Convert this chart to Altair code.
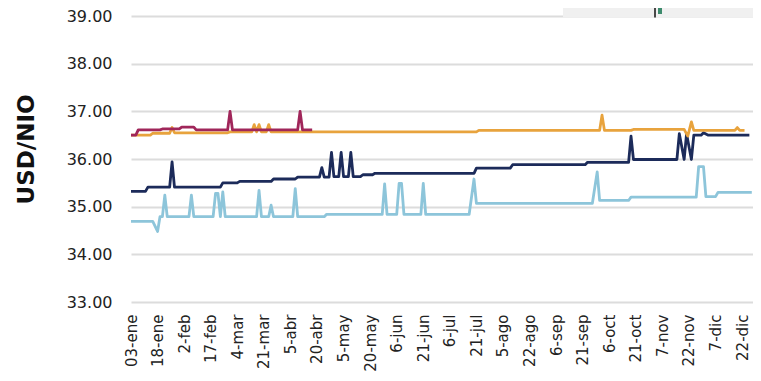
import json
import altair as alt
import pandas as pd

# Etiquetas del eje X (cada 11 días hábiles)
etiquetas_x = ["03-ene", "18-ene", "2-feb", "17-feb", "4-mar", "21-mar", "5-abr", "20-abr",
               "5-may", "20-may", "6-jun", "21-jun", "6-jul", "21-jul", "5-ago", "22-ago",
               "6-sep", "21-sep", "6-oct", "21-oct", "7-nov", "22-nov", "7-dic", "22-dic"]
paso_etiqueta = 11

# Serie celeste
celeste_dia = [0, 9, 11, 12, 13, 14, 15, 24, 25, 26, 34, 35, 36, 37, 38, 39, 52, 53, 54, 57, 58, 59,
               67, 68, 69, 80, 81, 104, 105, 106, 110, 111, 112, 113, 120, 121, 122, 140, 142, 143,
               191, 193, 194, 206, 207, 234, 235, 237, 238, 242, 243, 257]
celeste_val = [34.69, 34.69, 34.48, 34.79, 34.79, 35.24, 34.79, 34.79, 35.24, 34.79, 34.79, 35.28,
               35.28, 34.79, 35.31, 34.79, 34.79, 35.34, 34.79, 34.79, 35.03, 34.79, 34.79, 35.38,
               34.79, 34.79, 34.84, 34.84, 35.48, 34.84, 34.84, 35.49, 35.49, 34.84, 34.84, 35.49,
               34.84, 34.84, 35.58, 35.07, 35.07, 35.73, 35.13, 35.13, 35.20, 35.20, 35.84, 35.84,
               35.21, 35.21, 35.30, 35.30]

# Serie azul oscuro
azul_dia = [0, 6, 7, 16, 17, 18, 37, 38, 44, 45, 58, 59, 68, 69, 78, 79, 80, 82, 83, 84, 86, 87, 88,
            90, 91, 92, 95, 96, 100, 101, 142, 143, 157, 158, 188, 189, 206, 207, 208, 226, 227,
            229, 230, 232, 233, 236, 237, 239, 256]
azul_val = [35.32, 35.32, 35.41, 35.41, 35.94, 35.41, 35.41, 35.50, 35.50, 35.53, 35.53, 35.58,
            35.58, 35.62, 35.62, 35.82, 35.62, 35.62, 36.14, 35.63, 35.63, 36.14, 35.63, 35.63,
            36.14, 35.63, 35.63, 35.67, 35.67, 35.70, 35.70, 35.81, 35.81, 35.88, 35.88, 35.93,
            35.93, 36.48, 35.99, 35.99, 36.53, 35.99, 36.53, 35.99, 36.50, 36.50, 36.55, 36.50,
            36.50]

# Serie naranja
naranja_dia = [0, 8, 9, 16, 17, 18, 40, 41, 50, 51, 52, 53, 54, 56, 57, 58, 143, 144, 194, 195, 196,
               207, 208, 229, 230.5, 232, 233, 250, 251, 252, 254]
naranja_val = [36.50, 36.50, 36.54, 36.54, 36.66, 36.55, 36.55, 36.57, 36.57, 36.72, 36.57, 36.72,
               36.57, 36.57, 36.72, 36.57, 36.57, 36.60, 36.60, 36.92, 36.60, 36.60, 36.62, 36.62,
               36.48, 36.78, 36.60, 36.60, 36.66, 36.60, 36.60]

# Serie carmesí
carmesi_dia = [0, 2, 3, 12, 13, 20, 21, 26, 27, 40, 41, 42, 69, 70, 71, 75]
carmesi_val = [36.50, 36.50, 36.61, 36.61, 36.63, 36.63, 36.67, 36.67, 36.61, 36.61, 37.00, 36.61,
               36.61, 37.00, 36.61, 36.61]

series = [
    ("celeste", celeste_dia, celeste_val, "#8DC5DA"),
    ("azul", azul_dia, azul_val, "#1C2B5A"),
    ("naranja", naranja_dia, naranja_val, "#E8A33D"),
    ("carmesi", carmesi_dia, carmesi_val, "#A0265A"),
]

FONT = "DejaVu Sans"
x_max = 257.5
label_expr = json.dumps(etiquetas_x) + f"[round(datum.value / {paso_etiqueta})]"

x_enc = alt.X(
    "dia:Q",
    scale=alt.Scale(domain=[0, x_max], nice=False, zero=False),
    axis=alt.Axis(
        values=[i * paso_etiqueta for i in range(len(etiquetas_x))],
        labelExpr=label_expr,
        labelAngle=270,
        labelAlign="right",
        labelBaseline="middle",
        labelPadding=12,
        labelFontSize=15,
        labelFont=FONT,
        labelColor="#222222",
        labelOverlap=False,
        labelFlush=False,
        labelBound=False,
        grid=False,
        ticks=False,
        domain=False,
        title=None,
    ),
)
y_enc = alt.Y(
    "valor:Q",
    scale=alt.Scale(domain=[33, 39], nice=False, zero=False),
    axis=alt.Axis(
        values=[33, 34, 35, 36, 37, 38, 39],
        format=".2f",
        labelFontSize=16,
        labelFont=FONT,
        labelColor="#222222",
        labelPadding=19,
        labelBaseline="middle",
        labelFlush=False,
        labelOverlap=False,
        ticks=False,
        domain=False,
        grid=True,
        gridColor="#DCDCDC",
        gridWidth=2,
        title="USD/NIO",
        titleFont=FONT,
        titleFontSize=23,
        titleFontWeight="bold",
        titleColor="#111111",
        titleAngle=270,
        titleBaseline="middle",
        titleAlign="center",
        titleX=-105,
        titleY=133,
    ),
)

capas = []
for nombre, dias, vals, color in series:
    df = pd.DataFrame({"dia": dias, "valor": vals, "serie": nombre})
    ch = alt.Chart(df).mark_line(color=color, strokeWidth=2.8, strokeJoin="round").encode(
        x=x_enc,
        y=y_enc,
    )
    capas.append(ch)

# Recuadro superior derecho (tabla recortada)
caja = pd.DataFrame({"k": [0]})
rect = alt.Chart(caja).mark_rect(color="#F0F0F0").encode(
    x=alt.value(432), x2=alt.value(640), y=alt.value(-12), y2=alt.value(1.5)
)
regla = alt.Chart(caja).mark_rule(color="#111111", strokeWidth=1.5).encode(
    x=alt.value(524), y=alt.value(-12), y2=alt.value(1.5)
)
flecha = alt.Chart(caja).mark_rect(color="#3D8B6D").encode(
    x=alt.value(527), x2=alt.value(531), y=alt.value(-12), y2=alt.value(-2)
)

chart = alt.layer(*capas, rect, regla, flecha).properties(
    width=622,
    height=286,
    autosize=alt.AutoSizeParams(type="none"),
    padding={"left": 123, "top": 8, "right": 0, "bottom": 71},
).configure_view(stroke=None)

chart.save("out.html", embed_options={"renderer": "svg", "actions": False})
